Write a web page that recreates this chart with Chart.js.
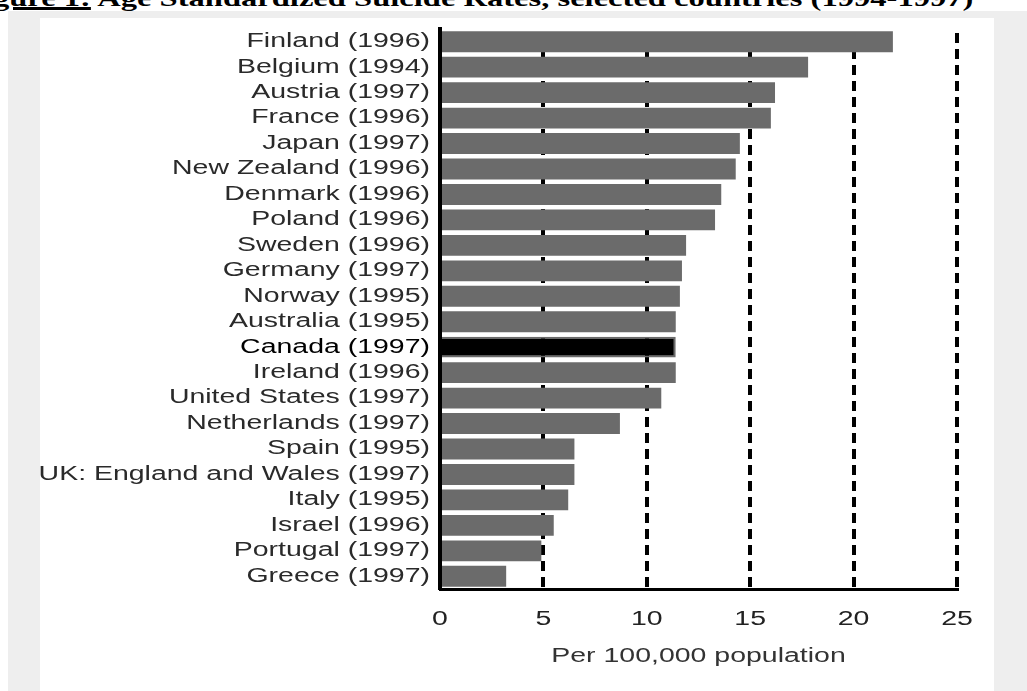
<!DOCTYPE html>
<html>
<head>
<meta charset="utf-8">
<script src="https://cdn.jsdelivr.net/npm/chart.js@4.4.1/dist/chart.umd.min.js"></script>
<style>
  html, body { margin: 0; padding: 0; background: #fff; }
  body { width: 1027px; height: 691px; position: relative; overflow: hidden; }
  #fig-title {
    position: absolute; left: -36px; top: -12px; z-index: 2;
    font-family: "Liberation Serif", "Times New Roman", serif;
    font-weight: bold; font-size: 22.3px; line-height: 22px;
    white-space: nowrap; color: #000;
    transform: scaleX(1.46); transform-origin: 0 0;
  }
  #fig-title u { text-decoration-thickness: 3px; text-underline-offset: 1px; }
  #panel { position: absolute; left: 8px; top: 11px; width: 1019px; height: 680px; background: #eeeeee; }
  #plot { position: absolute; left: 40px; top: 18px; width: 954px; height: 673px; background: #fff; }
</style>
</head>
<body>
<div id="fig-title"><u>Figure 1:</u> Age Standardized Suicide Rates, selected countries (1994-1997)</div>
<div id="panel"></div>
<div id="plot"><canvas id="chart"></canvas></div>
<script>
// rates per 100,000, top to bottom as in the figure
const countries = [
  "Finland (1996)",
  "Belgium (1994)",
  "Austria (1997)",
  "France (1996)",
  "Japan (1997)",
  "New Zealand (1996)",
  "Denmark (1996)",
  "Poland (1996)",
  "Sweden (1996)",
  "Germany (1997)",
  "Norway (1995)",
  "Australia (1995)",
  "Canada (1997)",
  "Ireland (1996)",
  "United States (1997)",
  "Netherlands (1997)",
  "Spain (1995)",
  "UK: England and Wales (1997)",
  "Italy (1995)",
  "Israel (1996)",
  "Portugal (1997)",
  "Greece (1997)",
];
const rates = [
  21.9, 17.8, 16.2, 16.0, 14.5, 14.3, 13.6, 13.3, 11.9, 11.7, 11.6,
  11.4, 11.4, 11.4, 10.7, 8.7, 6.5, 6.5, 6.2, 5.5, 4.9, 3.2,
];
const highlight = "Canada (1997)";
const xTicks = [0, 5, 10, 15, 20, 25];
const xTitle = "Per 100,000 population";

const labelFont = { family: "'Liberation Sans', Arial, sans-serif", size: 19.5 };
const textStretch = 1.46; // the source image is stretched sideways

// draw canvas text wider, anchored at its own x
const stretchPlugin = {
  id: "stretch",
  beforeDraw(chart) {
    const c = chart.ctx;
    if (c._stretched) return;
    const orig = c.fillText.bind(c);
    c.fillText = function (text, x, y, maxWidth) {
      c.save();
      c.translate(x, y);
      c.scale(textStretch, 1);
      if (maxWidth === undefined) orig(text, 0, 0);
      else orig(text, 0, 0, maxWidth / textStretch);
      c.restore();
    };
    c._stretched = true;
  },
};

const ctx = document.getElementById("chart").getContext("2d");
new Chart(ctx, {
  type: "bar",
  data: {
    labels: countries,
    datasets: [
      {
        data: rates,
        backgroundColor: countries.map((c) => (c === highlight ? "#000000" : "#6b6b6b")),
        borderColor: "#6b6b6b",
        borderWidth: countries.map((c) => (c === highlight ? 2 : 0)),
        barPercentage: 0.82,
        categoryPercentage: 1,
      },
    ],
  },
  plugins: [stretchPlugin],
  options: {
    indexAxis: "y",
    responsive: true,
    maintainAspectRatio: false,
    animation: false,
    layout: { padding: { top: 11, right: 37, bottom: 0, left: 0 } },
    plugins: {
      legend: { display: false },
      tooltip: { enabled: false },
    },
    scales: {
      x: {
        type: "linear",
        min: xTicks[0],
        max: xTicks[xTicks.length - 1],
        afterBuildTicks: (scale) => {
          scale.ticks = xTicks.map((v) => ({ value: v }));
        },
        afterFit: (scale) => {
          scale.height = 102;
          scale.paddingLeft = 0;
          scale.paddingRight = 0;
        },
        grid: {
          color: (c) => (c.tick && c.tick.value === 0 ? "rgba(0,0,0,0)" : "#000"),
          lineWidth: 4,
          drawTicks: false,
        },
        border: { display: true, color: "#000", width: 3, dash: [10, 6], dashOffset: 12 },
        ticks: {
          color: "#222",
          font: labelFont,
          padding: 19,
          maxRotation: 0,
          autoSkip: false,
        },
        title: {
          display: true,
          text: xTitle,
          color: "#333",
          font: labelFont,
          padding: { top: 0, bottom: 23 },
        },
      },
      y: {
        afterFit: (scale) => {
          scale.width = 400;
          scale.paddingTop = 0;
          scale.paddingBottom = 0;
        },
        grid: { display: false, drawTicks: false },
        border: { display: true, color: "#000", width: 4 },
        ticks: {
          color: (c) => (countries[c.index] === highlight ? "#000" : "#2a2a2a"),
          font: labelFont,
          padding: 10,
          autoSkip: false,
        },
      },
    },
  },
});
</script>
</body>
</html>
